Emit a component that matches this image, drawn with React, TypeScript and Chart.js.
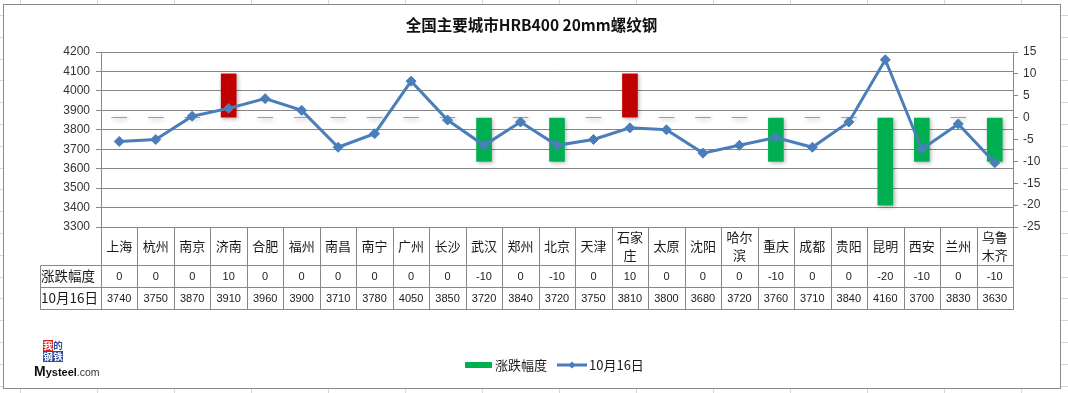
import React, { useEffect, useRef } from 'react';
import { Chart, registerables } from 'chart.js';

Chart.register(...registerables);

const chartTitle = '全国主要城市HRB400 20mm螺纹钢';
const cities = ['上海', '杭州', '南京', '济南', '合肥', '福州', '南昌', '南宁', '广州', '长沙', '武汉', '郑州', '北京', '天津', '石家庄', '太原', '沈阳', '哈尔滨', '重庆', '成都', '贵阳', '昆明', '西安', '兰州', '乌鲁木齐'];
const changeLabel = '涨跌幅度';
const changes = [0, 0, 0, 10, 0, 0, 0, 0, 0, 0, -10, 0, -10, 0, 10, 0, 0, 0, -10, 0, 0, -20, -10, 0, -10];
const priceLabel = '10月16日';
const prices = [3740, 3750, 3870, 3910, 3960, 3900, 3710, 3780, 4050, 3850, 3720, 3840, 3720, 3750, 3810, 3800, 3680, 3720, 3760, 3710, 3840, 4160, 3700, 3830, 3630];
const priceAxis = [3300, 4200, 100];
const changeAxis = [-25, 15, 5];
const logoChars = ['我', '的', '钢', '铁'];
const logoText = ['M', 'ysteel', '.com'];

const UP = '#C00000';
const DOWN = '#00B050';
const LINE = '#4A7EBB';
const GRID = '#878787';
const CJK = '"Noto Sans CJK SC", "Liberation Sans", sans-serif';
const NUM = '"Liberation Sans", "Noto Sans CJK SC", sans-serif';

const W = 1068;
const H = 393;
const BOX = { l: 3, t: 4, r: 1060, b: 388 };

const px = (v: number) => Math.round(v) + 0.5;

const sheetPlugin = {
  id: 'sheet',
  beforeDraw(chart: any) {
    const ctx = chart.ctx as CanvasRenderingContext2D;
    ctx.save();
    ctx.fillStyle = '#ffffff';
    ctx.fillRect(0, 0, W, H);
    ctx.strokeStyle = '#d6d6d6';
    ctx.lineWidth = 1;
    ctx.beginPath();
    for (let x = 20; x < W; x += 77) { ctx.moveTo(px(x), 0); ctx.lineTo(px(x), H); }
    for (let y = 15; y < H; y += 21.8) { ctx.moveTo(0, px(y)); ctx.lineTo(W, px(y)); }
    ctx.stroke();
    ctx.fillStyle = '#ffffff';
    ctx.fillRect(BOX.l, BOX.t, BOX.r - BOX.l, BOX.b - BOX.t);
    ctx.strokeStyle = '#8a8a8a';
    ctx.strokeRect(px(BOX.l), px(BOX.t), BOX.r - BOX.l, BOX.b - BOX.t);
    ctx.fillStyle = '#111111';
    ctx.font = 'bold 15.5px ' + CJK;
    ctx.textAlign = 'center';
    ctx.textBaseline = 'middle';
    ctx.fillText(chartTitle, (BOX.l + BOX.r) / 2, 25);
    ctx.restore();
  },
  beforeDatasetDraw(chart: any, args: any) {
    if (args.meta.type !== 'bar') return;
    const ctx = chart.ctx as CanvasRenderingContext2D;
    ctx.save();
    const zeroY = chart.scales.y2.getPixelForValue(0);
    args.meta.data.forEach((el: any, i: number) => {
      if (changes[i] === 0) {
        ctx.save();
        ctx.shadowColor = 'rgba(0,0,0,0.16)';
        ctx.shadowBlur = 5;
        ctx.shadowOffsetX = 2000 + 1;
        ctx.shadowOffsetY = 2;
        ctx.fillStyle = '#000';
        ctx.fillRect(el.x - 7 - 2000, zeroY - 1, 14, 1.5);
        ctx.restore();
      }
    });
    ctx.shadowColor = 'rgba(0,0,0,0.3)';
    ctx.shadowBlur = 4;
    ctx.shadowOffsetX = 1.5;
    ctx.shadowOffsetY = 1.5;
  },
  afterDatasetDraw(chart: any, args: any) {
    if (args.meta.type !== 'bar') return;
    chart.ctx.restore();
  },
  afterDraw(chart: any) {
    const ctx = chart.ctx as CanvasRenderingContext2D;
    const { left, right, bottom } = chart.chartArea;
    const n = cities.length;
    const w = (right - left) / n;
    const r1 = 265;
    const r2 = 287;
    const r3 = 309;
    const hdrX = 40;
    ctx.save();
    ctx.strokeStyle = GRID;
    ctx.lineWidth = 1;
    ctx.beginPath();
    for (let i = 0; i <= n; i++) {
      const x = px(left + i * w);
      ctx.moveTo(x, bottom);
      ctx.lineTo(x, r3 + 0.5);
    }
    [r1, r2, r3].forEach((y) => {
      ctx.moveTo(px(hdrX), px(y));
      ctx.lineTo(px(right), px(y));
    });
    ctx.moveTo(px(hdrX), px(r1));
    ctx.lineTo(px(hdrX), px(r3));
    ctx.stroke();

    ctx.fillStyle = '#1a1a1a';
    ctx.textAlign = 'center';
    ctx.textBaseline = 'middle';
    ctx.font = '13px ' + CJK;
    cities.forEach((c, i) => {
      const cx = left + (i + 0.5) * w;
      if (c.length > 2) {
        ctx.fillText(c.slice(0, 2), cx, 237);
        ctx.fillText(c.slice(2), cx, 255);
      } else {
        ctx.fillText(c, cx, 246);
      }
    });
    ctx.font = '11px ' + NUM;
    changes.forEach((v, i) => {
      ctx.fillText(String(v), left + (i + 0.5) * w, (r1 + r2) / 2 + 0.5);
    });
    prices.forEach((v, i) => {
      ctx.fillText(String(v), left + (i + 0.5) * w, (r2 + r3) / 2 + 0.5);
    });
    ctx.textAlign = 'left';
    ctx.font = '13.5px ' + CJK;
    ctx.fillText(changeLabel, hdrX + 1, (r1 + r2) / 2);
    ctx.fillText(priceLabel, hdrX + 1, (r2 + r3) / 2);

    const ly = 365;
    ctx.fillStyle = DOWN;
    ctx.fillRect(465, ly - 3, 27, 6);
    ctx.fillStyle = '#1a1a1a';
    ctx.font = '13px ' + CJK;
    ctx.fillText(changeLabel, 495, ly);
    ctx.strokeStyle = LINE;
    ctx.lineWidth = 3;
    ctx.beginPath();
    ctx.moveTo(557, ly);
    ctx.lineTo(587, ly);
    ctx.stroke();
    ctx.fillStyle = LINE;
    ctx.beginPath();
    ctx.moveTo(572, ly - 3.5);
    ctx.lineTo(575.5, ly);
    ctx.lineTo(572, ly + 3.5);
    ctx.lineTo(568.5, ly);
    ctx.closePath();
    ctx.fill();
    ctx.fillStyle = '#1a1a1a';
    ctx.fillText(priceLabel, 589, ly);

    const boxes = [
      { x: 43, y: 340, bg: '#E0201E', fg: '#ffffff' },
      { x: 53, y: 340, bg: '#ffffff', fg: '#2B4C9B' },
      { x: 43, y: 351, bg: '#2B4C9B', fg: '#ffffff' },
      { x: 53, y: 351, bg: '#2B4C9B', fg: '#ffffff' },
    ];
    ctx.textAlign = 'center';
    ctx.font = 'bold 9.5px ' + CJK;
    boxes.forEach((b, i) => {
      ctx.fillStyle = b.bg;
      ctx.fillRect(b.x, b.y, 10, 11);
      ctx.fillStyle = b.fg;
      ctx.fillText(logoChars[i], b.x + 5, b.y + 5.5);
    });
    ctx.textAlign = 'left';
    ctx.textBaseline = 'alphabetic';
    ctx.fillStyle = '#111111';
    ctx.font = 'bold 14px ' + NUM;
    ctx.fillText(logoText[0], 34, 376);
    let x = 34 + ctx.measureText(logoText[0]).width;
    ctx.font = 'bold 11px ' + NUM;
    ctx.fillText(logoText[1], x, 376);
    x += ctx.measureText(logoText[1]).width;
    ctx.font = '10.5px ' + NUM;
    ctx.fillStyle = '#333333';
    ctx.fillText(logoText[2], x, 376);
    ctx.restore();
  },
};

export default function App() {
  const ref = useRef<HTMLCanvasElement | null>(null);
  useEffect(() => {
    document.body.style.margin = '0';
    const canvas = ref.current;
    if (!canvas) return;
    const chart = new Chart(canvas, {
      type: 'bar',
      data: {
        labels: cities,
        datasets: [
          {
            type: 'line',
            label: priceLabel,
            data: prices,
            yAxisID: 'y',
            borderColor: LINE,
            backgroundColor: LINE,
            borderWidth: 3,
            pointStyle: 'rectRot',
            pointRadius: 5,
            pointBackgroundColor: LINE,
            pointBorderColor: LINE,
            pointBorderWidth: 1,
            tension: 0,
            order: 1,
          } as any,
          {
            type: 'bar',
            label: changeLabel,
            data: changes,
            yAxisID: 'y2',
            backgroundColor: changes.map((v) => (v > 0 ? UP : DOWN)),
            barThickness: 15,
            order: 2,
          } as any,
        ],
      },
      options: {
        responsive: false,
        animation: false,
        devicePixelRatio: 1,
        layout: { padding: { top: 52, bottom: 166, left: 0, right: 0 } },
        plugins: {
          legend: { display: false },
          tooltip: { enabled: false },
          title: { display: false },
        },
        scales: {
          x: {
            type: 'category',
            display: false,
            offset: true,
            grid: { offset: true },
          },
          y: {
            position: 'left',
            min: priceAxis[0],
            max: priceAxis[1],
            ticks: {
              stepSize: priceAxis[2],
              color: '#333333',
              padding: 6,
              font: { family: NUM, size: 12 },
              callback: (v: any) => String(v),
            },
            grid: { color: GRID, lineWidth: 1, tickLength: 5 },
            border: { color: GRID },
            afterFit(s: any) { s.width = 101; },
          },
          y2: {
            position: 'right',
            min: changeAxis[0],
            max: changeAxis[1],
            ticks: {
              stepSize: changeAxis[2],
              color: '#333333',
              padding: 5,
              font: { family: NUM, size: 12 },
              callback: (v: any) => String(v),
            },
            grid: { drawOnChartArea: false, color: GRID, tickLength: 5 },
            border: { color: GRID },
            afterFit(s: any) { s.width = W - 1013; },
          },
        },
      } as any,
      plugins: [sheetPlugin as any],
    });
    return () => chart.destroy();
  }, []);
  return (
    <div style={{ position: 'fixed', left: 0, top: 0, width: W, height: H }}>
      <canvas ref={ref} width={W} height={H} style={{ display: 'block', width: W, height: H }} />
    </div>
  );
}
